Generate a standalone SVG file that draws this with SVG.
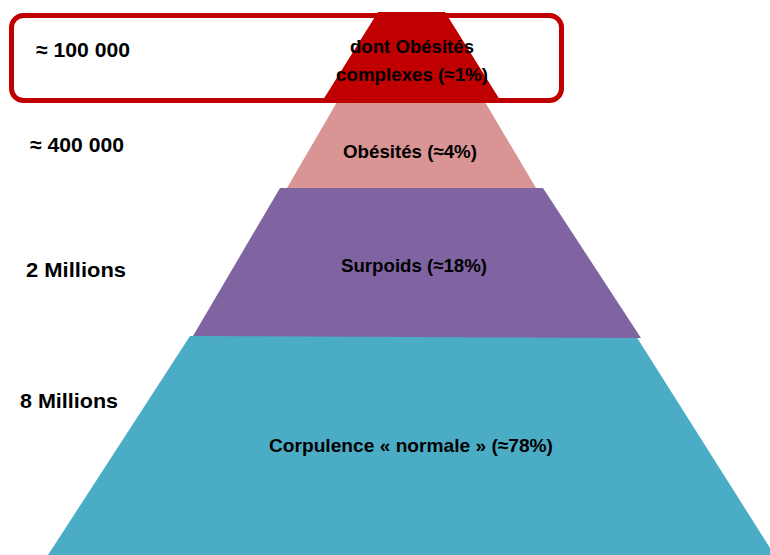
<svg xmlns="http://www.w3.org/2000/svg" width="770" height="555" viewBox="0 0 770 555">
<style>
text{font-family:"Liberation Sans",Arial,sans-serif;font-weight:bold;fill:#000;}
.lab{font-size:21px;}
.in{font-size:19px;text-anchor:middle;}
</style>
<rect width="770" height="555" fill="#fff"/>
<g id="level-normale">
<polygon points="190,336 636,336 770,548 770,555 48,555" fill="#4BACC6"/>
<text class="in" x="411" y="452" textLength="284" lengthAdjust="spacingAndGlyphs">Corpulence « normale » (≈78%)</text>
</g>
<g id="level-surpoids">
<polygon points="280,188 543,188 641,338 193,336" fill="#8064A2"/>
<text class="in" x="414" y="272" textLength="146" lengthAdjust="spacingAndGlyphs">Surpoids (≈18%)</text>
</g>
<g id="level-obesites">
<polygon points="337,102 485,102 536,188 287,188" fill="#D99594"/>
<text class="in" x="410" y="158" textLength="134" lengthAdjust="spacingAndGlyphs">Obésités (≈4%)</text>
</g>
<g id="highlight-box">
<rect x="11.5" y="15.5" width="550" height="85" rx="12" ry="12" fill="#fff" stroke="#C00000" stroke-width="5"/>
</g>
<g id="level-complexes">
<polygon points="378,12 445,12 500,100 323,100" fill="#C00000"/>
<text class="in" x="412" y="53" textLength="124" lengthAdjust="spacingAndGlyphs">dont Obésités</text>
<text class="in" x="412" y="81" textLength="152" lengthAdjust="spacingAndGlyphs">complexes (≈1%)</text>
</g>
<g id="labels">
<text class="lab" x="36" y="57" textLength="94" lengthAdjust="spacingAndGlyphs">≈ 100 000</text>
<text class="lab" x="30" y="152" textLength="94" lengthAdjust="spacingAndGlyphs">≈ 400 000</text>
<text class="lab" x="26" y="277" textLength="100" lengthAdjust="spacingAndGlyphs">2 Millions</text>
<text class="lab" x="20" y="408" textLength="98" lengthAdjust="spacingAndGlyphs">8 Millions</text>
</g>
<g id="connectors"/>
</svg>
